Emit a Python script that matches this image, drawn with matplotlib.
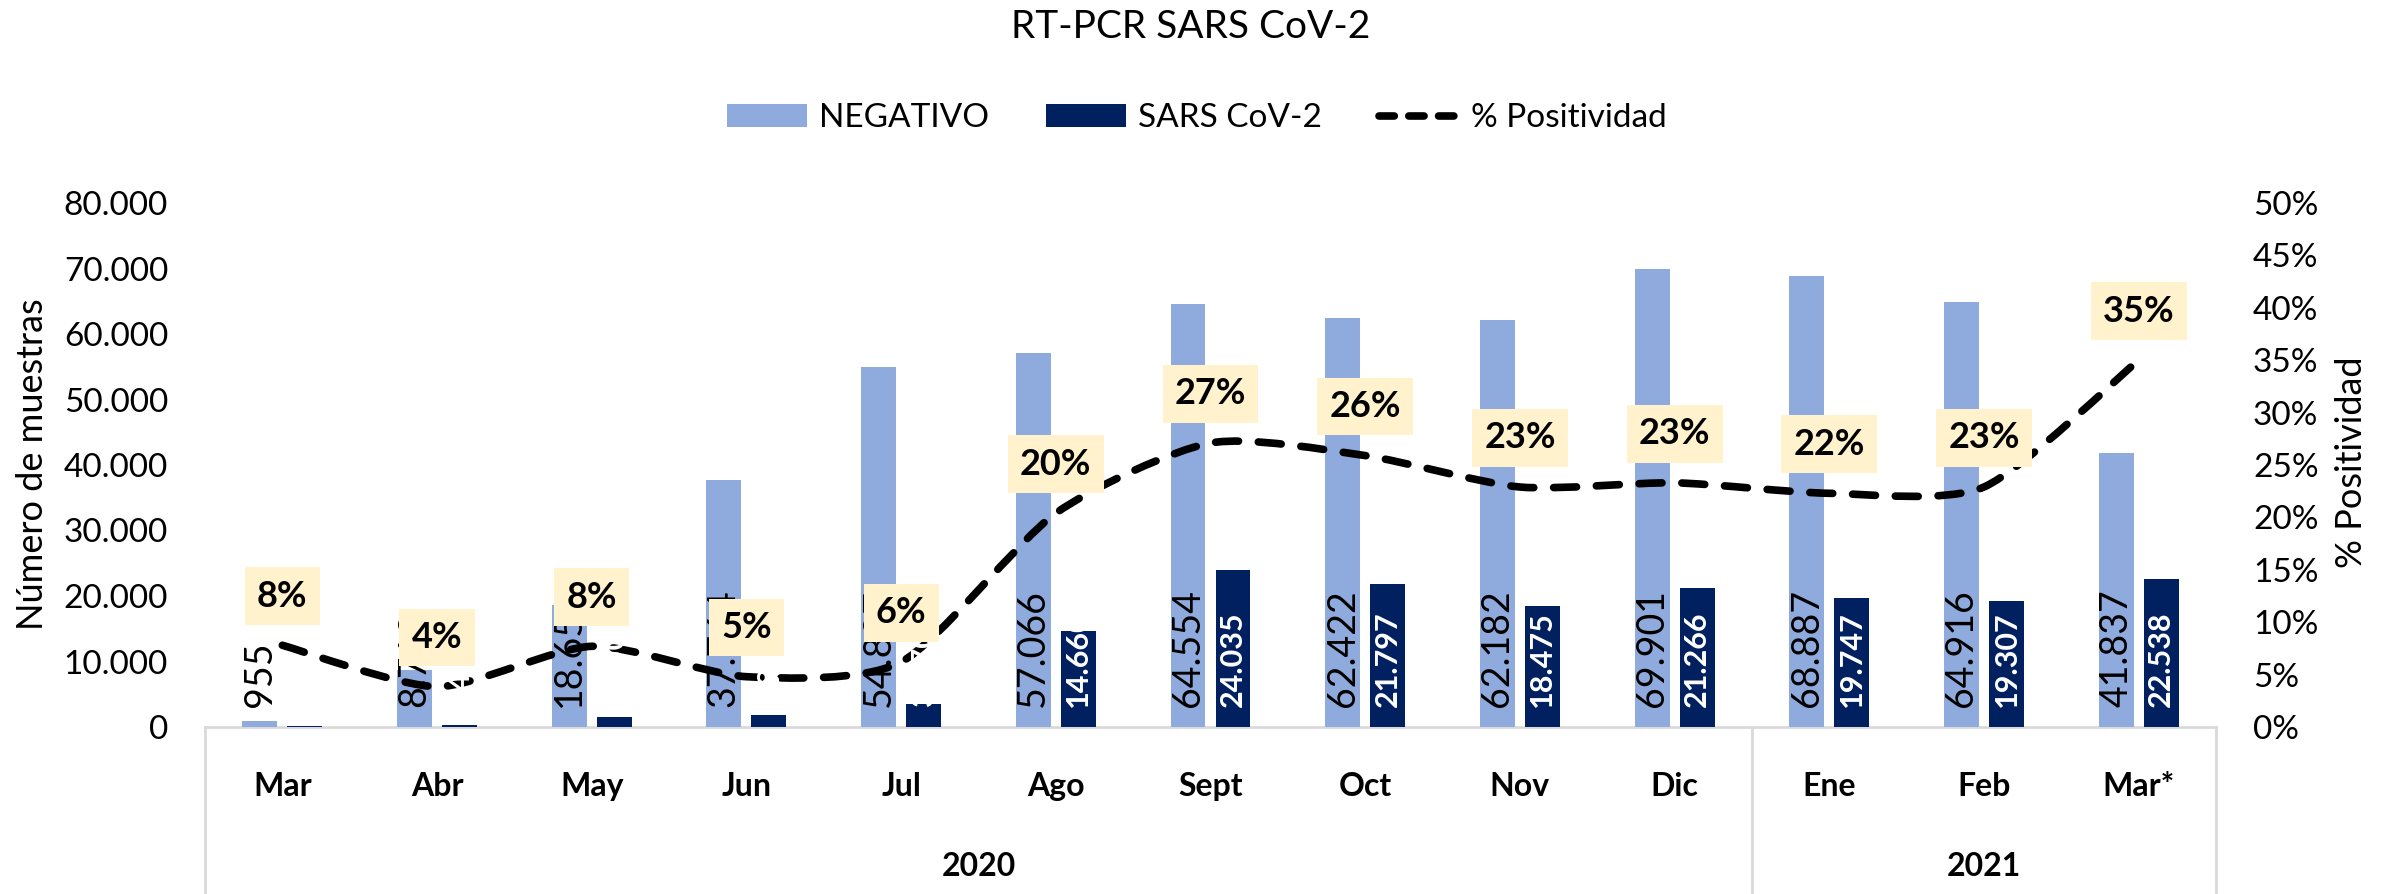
import numpy as np
import matplotlib
matplotlib.use('Agg')
import matplotlib.pyplot as plt
from matplotlib.path import Path
from matplotlib.patches import PathPatch, Patch
from matplotlib.lines import Line2D

plt.rcParams['font.family'] = ['Lato', 'DejaVu Sans']

# ---------------- data ----------------
months = ['Mar', 'Abr', 'May', 'Jun', 'Jul', 'Ago', 'Sept', 'Oct', 'Nov', 'Dic', 'Ene', 'Feb', 'Mar*']
years = ['2020', '2021']
year_span = [10, 3]
negativo = [955, 8712, 18652, 37764, 54887, 57066, 64554, 62422, 62182, 69901, 68887, 64916, 41837]
sars = [81, 348, 1550, 1900, 3570, 14660, 24035, 21797, 18475, 21266, 19747, 19307, 22538]
positividad = [0.078, 0.0385, 0.077, 0.048, 0.062, 0.204, 0.271, 0.259, 0.229, 0.233, 0.223, 0.229, 0.350]
left_ticks = list(range(0, 80001, 10000))
right_ticks = [0, 0.05, 0.10, 0.15, 0.20, 0.25, 0.30, 0.35, 0.40, 0.45, 0.50]

C_NEG = '#8FAADC'
C_POS = '#002060'
C_GRID = '#D9D9D9'


def thousands(v):
    return f"{v:,}".replace(',', '.')


W, H = 2394, 894
fig = plt.figure(figsize=(W / 100, H / 100), dpi=100)
L, R, T, B = 205, 2216, 203, 727
ax = fig.add_axes([L / W, (H - B) / H, (R - L) / W, (B - T) / H])
ax2 = ax.twinx()

n = len(months)
x = np.arange(n)
w = 0.226
off = 0.1455

ax.bar(x - off, negativo, w, color=C_NEG, zorder=2)
ax.bar(x + off, sars, w, color=C_POS, zorder=2)

ax.set_xlim(-0.5, n - 0.5)
ax.set_ylim(0, 80000)
ax.set_yticks(left_ticks)
ax.set_yticklabels([thousands(v) for v in left_ticks])
ax.tick_params(axis='y', length=0, pad=26.6, labelsize=24, labelcolor='#000000')
ax.set_xticks([])

ax2.set_ylim(0, 0.5)
ax2.set_yticks(right_ticks)
ax2.set_yticklabels([f"{round(v * 100)}%" for v in right_ticks])
ax2.tick_params(axis='y', length=0, pad=26.6, labelsize=24, labelcolor='#000000')
ax2.set_xticks([])

for a in (ax, ax2):
    for s in a.spines.values():
        s.set_visible(False)

# baseline and category-group frame
ax.axhline(0, color=C_GRID, lw=2, zorder=1, clip_on=False)
bounds = [-0.5] + list(np.cumsum(year_span) - 0.5)
for xv in bounds:
    ax.plot([xv, xv], [0, -0.33], transform=ax.get_xaxis_transform(),
            color=C_GRID, lw=2, clip_on=False, zorder=1)

# category & year labels
for i, m in enumerate(months):
    ax.text(i, -0.1126, m, transform=ax.get_xaxis_transform(), ha='center', va='center',
            fontsize=23, fontweight='bold')
start = 0
for yname, span in zip(years, year_span):
    ax.text(start + (span - 1) / 2, -0.267, yname, transform=ax.get_xaxis_transform(),
            ha='center', va='center', fontsize=23, fontweight='bold')
    start += span

# smoothed positivity line (Bezier through data points)
pts = np.column_stack([x, positividad])
verts = [tuple(pts[0])]
codes = [Path.MOVETO]
t = 0.12
for i in range(n - 1):
    p0 = pts[max(i - 1, 0)]
    p1 = pts[i]
    p2 = pts[i + 1]
    p3 = pts[min(i + 2, n - 1)]
    c1 = p1 + (p2 - p0) * t
    c2 = p2 - (p3 - p1) * t
    verts += [tuple(c1), tuple(c2), tuple(p2)]
    codes += [Path.CURVE4] * 3
line = PathPatch(Path(verts, codes), fill=False, ec='black', lw=5.5,
                 ls=(0, (3, 2.6)), capstyle='round', zorder=3)
ax2.add_patch(line)

# bar labels (drawn above the line)
for i in range(n):
    ax2.annotate(thousands(negativo[i]), xy=(x[i] - off, 0), xycoords=ax.transData,
                 xytext=(0, 14.4), textcoords='offset points', rotation=90,
                 ha='center', va='bottom', fontsize=27, color='#000000',
                 zorder=4, annotation_clip=False)
    ax2.annotate(thousands(sars[i]), xy=(x[i] + off, 0), xycoords=ax.transData,
                 xytext=(0, 14.4), textcoords='offset points', rotation=90,
                 ha='center', va='bottom', fontsize=22, fontweight='bold', color='white',
                 zorder=4, annotation_clip=False)

# percentage labels
for i in range(n):
    ax2.annotate(f"{round(positividad[i] * 100)}%", xy=(x[i], positividad[i]),
                 xytext=(0, 35.3), textcoords='offset points', ha='center', va='center',
                 fontsize=26, fontweight='bold', color='black',
                 bbox=dict(boxstyle='square,pad=0.34', fc='#FFF2CC', ec='none'),
                 zorder=5, annotation_clip=False)

# titles / axis labels
fig.text(1191 / W, 1 - 27.5 / H, 'RT-PCR SARS CoV-2', ha='center', va='center', fontsize=28)
fig.text(33 / W, 1 - 464 / H, 'Número de muestras', rotation=90, ha='center', va='center', fontsize=26)
fig.text(2352 / W, 1 - 462 / H, '% Positividad', rotation=90, ha='center', va='center', fontsize=26)

# legend
handles = [Patch(fc=C_NEG, ec='none'), Patch(fc=C_POS, ec='none'),
           Line2D([], [], color='black', lw=5.5, ls=(0, (2, 1.9)), dash_capstyle='round')]
fig.legend(handles=handles, labels=['NEGATIVO', 'SARS CoV-2', '% Positividad'],
           loc='center', bbox_to_anchor=(1197 / W, 1 - 118 / H), ncol=3, frameon=False,
           fontsize=24, handlelength=2.4, handleheight=0.66, handletextpad=0.36,
           columnspacing=1.7)

fig.savefig('out.png', dpi=100)
